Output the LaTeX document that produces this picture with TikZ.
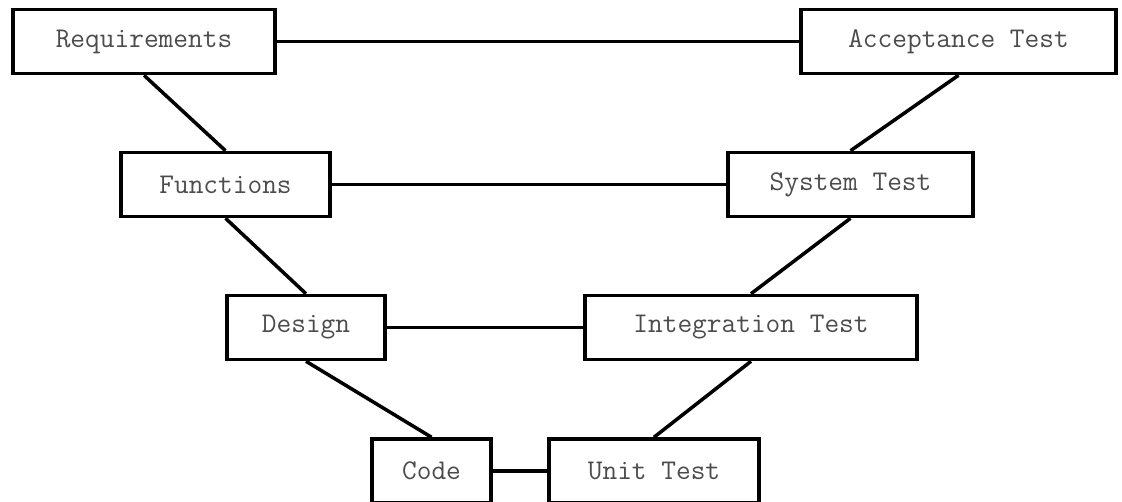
\documentclass[tikz,border=0pt]{standalone}
\usepackage{tikz}

\begin{document}
\begin{tikzpicture}[x=0.025cm, y=-0.025cm,
    stage/.style={draw, line width=2.5pt, inner sep=0pt, minimum height=1.6cm,
                  font=\ttfamily\fontsize{20.3}{22}\selectfont, text=black!70},
    link/.style={line width=2.5pt}]

  % page frame
  \useasboundingbox (0,0) rectangle (1122,501);

  % left branch (specification)
  \node[stage, minimum width=6.55cm]  (req)    at (144,41.5)   {Requirements};
  \node[stage, minimum width=5.225cm] (func)   at (225.5,184.5) {Functions};
  \node[stage, minimum width=3.95cm]  (design) at (306,327.5)   {Design};
  \node[stage, minimum width=2.975cm] (code)   at (431.5,471)   {Code};

  % right branch (testing)
  \node[stage, minimum width=7.875cm] (acc)    at (958.5,41.5)  {Acceptance Test};
  \node[stage, minimum width=6.125cm] (sys)    at (850.5,184.5) {System Test};
  \node[stage, minimum width=8.3cm]   (integ)  at (751,327.5)   {Integration Test};
  \node[stage, minimum width=5.25cm]  (unit)   at (654,471)     {Unit Test};

  % the two legs of the V
  \foreach \a/\b in {req/func, func/design, design/code,
                     acc/sys, sys/integ, integ/unit}
    \draw[link] (\a.south) -- (\b.north);

  % level pairs
  \foreach \a/\b in {req/acc, func/sys, design/integ, code/unit}
    \draw[link] (\a.east) -- (\b.west);

\end{tikzpicture}
\end{document}
